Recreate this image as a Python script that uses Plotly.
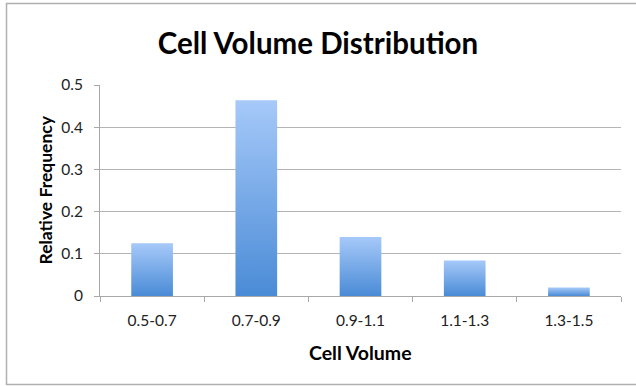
import plotly.graph_objects as go

# Relative frequency of cell volumes per volume bin
categories = ["0.5-0.7", "0.7-0.9", "0.9-1.1", "1.1-1.3", "1.3-1.5"]
rel_freq = [0.125, 0.464, 0.14, 0.084, 0.02]
y_ticks = [0, 0.1, 0.2, 0.3, 0.4, 0.5]
y_tick_labels = ["0", "0.1", "0.2", "0.3", "0.4", "0.5"]

BAR_WIDTH = 0.4
BAR_BOTTOM = "#4a8bd6"
BAR_TOP = "#a6c9f9"
FONT = "Lato"

W, H = 636, 386
ML, MR, MT, MB = 100, 15, 85, 90
PW, PH = W - ML - MR, H - MT - MB


def px_x(x):
    """Horizontal pixel position -> paper fraction."""
    return (x - ML) / PW


def px_y(y):
    """Vertical pixel position -> paper fraction."""
    return (H - MB - y) / PH


fig = go.Figure()

# Each bar is a filled rectangle in data space so it can carry a vertical gradient
for i, v in enumerate(rel_freq):
    x0, x1 = i - BAR_WIDTH / 2, i + BAR_WIDTH / 2
    fig.add_trace(go.Scatter(
        x=[x0, x1, x1, x0, x0],
        y=[0, 0, v, v, 0],
        mode="lines",
        fill="toself",
        fillgradient=dict(type="vertical",
                          colorscale=[[0, BAR_BOTTOM], [1, BAR_TOP]]),
        line=dict(width=0, color=BAR_BOTTOM),
        hoverinfo="skip",
        showlegend=False,
    ))

n = len(categories)
fig.update_layout(
    width=W, height=H,
    margin=dict(l=ML, r=MR, t=MT, b=MB),
    paper_bgcolor="white",
    plot_bgcolor="white",
    showlegend=False,
    title=dict(text="<b>Cell Volume Distribution</b>", x=0.5, xanchor="center",
               y=1 - 44 / H, yanchor="middle",
               font=dict(family=FONT, size=29.5, color="black")),
    xaxis=dict(
        range=[-0.5, n - 0.5],
        tickmode="array",
        tickvals=list(range(n)),
        ticktext=categories,
        ticks="",
        ticklabelstandoff=10,
        showgrid=False,
        zeroline=False,
        showline=True, linecolor="#a8a8a8", linewidth=1,
        tickfont=dict(family=FONT, size=15.5, color="#222"),
        minor=dict(tickmode="array", tickvals=[k - 0.5 for k in range(n + 1)],
                   ticks="outside", ticklen=5, tickcolor="#a8a8a8", showgrid=False),
        fixedrange=True,
    ),
    yaxis=dict(
        range=[0, 0.5],
        tickmode="array",
        tickvals=y_ticks,
        ticktext=y_tick_labels,
        ticks="outside", ticklen=5, tickcolor="#a8a8a8",
        ticklabelstandoff=8,
        showgrid=True, gridcolor="#b4b4b4", gridwidth=1,
        zeroline=False,
        showline=True, linecolor="#a8a8a8", linewidth=1,
        tickfont=dict(family=FONT, size=15.5, color="#222"),
        fixedrange=True,
    ),
    annotations=[
        dict(text="<b>Cell Volume</b>", xref="paper", yref="paper",
             x=0.5, y=px_y(352), xanchor="center", yanchor="middle",
             showarrow=False, font=dict(family=FONT, size=19.5, color="black")),
        dict(text="<b>Relative Frequency</b>", xref="paper", yref="paper",
             x=px_x(45), y=0.5, xanchor="center", yanchor="middle", textangle=-90,
             showarrow=False, font=dict(family=FONT, size=17.5, color="black")),
    ],
    shapes=[
        # chart-area frame
        dict(type="rect", xref="paper", yref="paper",
             x0=px_x(6.5), x1=px_x(650),
             y0=px_y(384.5), y1=px_y(3.5),
             line=dict(color="#b0b0b0", width=1.5), layer="below"),
    ],
)

fig.write_html("out.html")
